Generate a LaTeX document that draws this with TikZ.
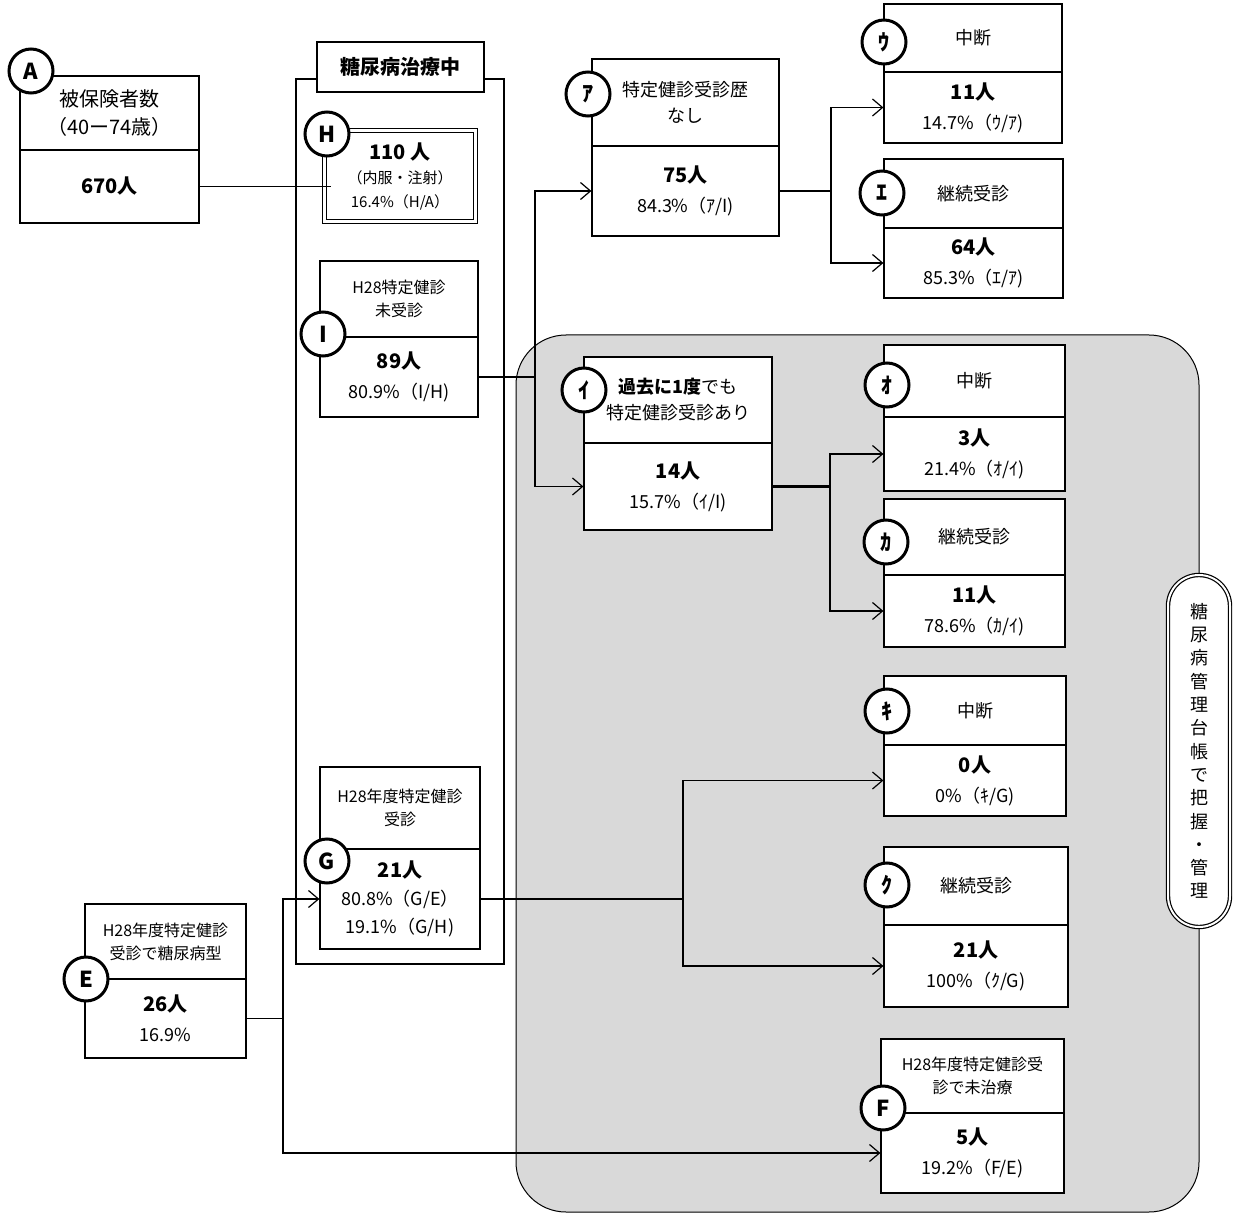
\documentclass[tikz,border=0pt]{standalone}
\usepackage{fontspec}
\setmainfont{Noto Sans CJK JP}
\usepackage{tikz}
\usetikzlibrary{arrows.meta}
\definecolor{grigio}{HTML}{D9D9D9}
\tikzset{
>={Straight Barb[length=10pt,width=17pt]},
scatola/.style={draw,fill=white,line width=1.2pt,inner sep=0pt,align=center},
cerchio/.style={circle,draw,fill=white,line width=3pt,minimum size=44pt,inner sep=0pt,font=\fontsize{22pt}{22pt}\selectfont\bfseries},
alto/.style={font=\fontsize{18pt}{26pt}\selectfont},
piccolo/.style={font=\fontsize{16pt}{23pt}\selectfont},
basso/.style={font=\fontsize{18pt}{30pt}\selectfont},
freccia/.style={->,line width=1.2pt},
linea/.style={line width=1.2pt},
spessa/.style={line width=2.4pt}}
\newcommand\persone[1]{{\fontsize{20pt}{30pt}\selectfont\bfseries #1}}

\begin{document}
\begin{tikzpicture}[x=1pt,y=-1pt]
\useasboundingbox (0,0) rectangle (1234,1214);

\draw[fill=grigio,line width=1pt,rounded corners=50pt] (516,335) rectangle (1199,1212);
\draw[linea] (296,79) rectangle (504,964);
\node[scatola,minimum width=167pt,minimum height=50pt,font=\fontsize{20pt}{20pt}\selectfont\bfseries] (T) at (400.5,67) {糖尿病治療中};
\node[draw,fill=white,double,double distance=2pt,line width=1.2pt,rounded corners=31pt,minimum width=62pt,minimum height=352pt,inner sep=0pt,align=center,font=\fontsize{18pt}{23.3pt}\selectfont] (P) at (1199,751) {糖\\尿\\病\\管\\理\\台\\帳\\で\\把\\握\\・\\管\\理};

\node[scatola,minimum width=179pt,minimum height=74pt,font=\fontsize{20pt}{28pt}\selectfont] (At) at (109.5,113) {被保険者数\\（40ー74歳）};
\node[scatola,minimum width=179pt,minimum height=73pt] (Ab) at (109.5,186.5) {\persone{670人}};
\node[scatola,double,double distance=2.4pt,line width=1.7pt,minimum width=151pt,minimum height=91pt,font=\fontsize{15pt}{24pt}\selectfont] (H) at (400,176) {\persone{110 人}\\（内服・注射）\\16.4\%（H/A）};
\node[scatola,piccolo,minimum width=158pt,minimum height=76pt] (It) at (399,299) {H28特定健診\\未受診};
\node[scatola,basso,minimum width=158pt,minimum height=80pt] (Ib) at (399,377) {\persone{89人}\\80.9\%（I/H)};
\node[scatola,piccolo,minimum width=160pt,minimum height=82pt] (Gt) at (400,808) {H28年度特定健診\\受診};
\node[scatola,font=\fontsize{18pt}{28pt}\selectfont,minimum width=160pt,minimum height=100pt] (Gb) at (400,899) {\persone{21人}\\80.8\%（G/E）\\19.1\%（G/H)};
\node[scatola,piccolo,minimum width=161pt,minimum height=75pt] (Et) at (165.5,941.5) {H28年度特定健診\\受診で糖尿病型};
\node[scatola,basso,minimum width=161pt,minimum height=79pt] (Eb) at (165.5,1018.5) {\persone{26人}\\16.9\%};

\node[scatola,alto,minimum width=187pt,minimum height=87pt] (kAt) at (685.5,102.5) {特定健診受診歴\\なし};
\node[scatola,basso,minimum width=187pt,minimum height=90pt] (kAb) at (685.5,191) {\persone{75人}\\84.3\%（ｱ/I)};
\node[scatola,alto,minimum width=178pt,minimum height=68pt] (kUt) at (973,38) {中断};
\node[scatola,basso,minimum width=178pt,minimum height=71pt] (kUb) at (973,107.5) {\persone{11人}\\14.7\%（ｳ/ｱ)};
\node[scatola,alto,minimum width=179pt,minimum height=69pt] (kEt) at (973.5,193.5) {継続受診};
\node[scatola,basso,minimum width=179pt,minimum height=70pt] (kEb) at (973.5,263) {\persone{64人}\\85.3\%（ｴ/ｱ)};
\node[scatola,alto,minimum width=188pt,minimum height=86pt] (kIt) at (678,400) {\textbf{過去に1度}でも\\特定健診受診あり};
\node[scatola,basso,minimum width=188pt,minimum height=87pt] (kIb) at (678,486.5) {\persone{14人}\\15.7\%（ｲ/I)};
\node[scatola,alto,minimum width=181pt,minimum height=72pt] (kOt) at (974.5,381) {中断};
\node[scatola,basso,minimum width=181pt,minimum height=74pt] (kOb) at (974.5,454) {\persone{3人}\\21.4\%（ｵ/ｲ)};
\node[scatola,alto,minimum width=181pt,minimum height=76pt] (kKAt) at (974.5,537) {継続受診};
\node[scatola,basso,minimum width=181pt,minimum height=72pt] (kKAb) at (974.5,611) {\persone{11人}\\78.6\%（ｶ/ｲ)};
\node[scatola,alto,minimum width=182pt,minimum height=69pt] (kKIt) at (975,710.5) {中断};
\node[scatola,basso,minimum width=182pt,minimum height=71pt] (kKIb) at (975,780.5) {\persone{0人}\\0\%（ｷ/G)};
\node[scatola,alto,minimum width=184pt,minimum height=78pt] (kKUt) at (976,886) {継続受診};
\node[scatola,basso,minimum width=184pt,minimum height=82pt] (kKUb) at (976,966) {\persone{21人}\\100\%（ｸ/G)};
\node[scatola,piccolo,minimum width=183pt,minimum height=74pt] (Ft) at (972.5,1076) {H28年度特定健診受\\診で未治療};
\node[scatola,basso,minimum width=183pt,minimum height=80pt] (Fb) at (972.5,1153) {\persone{5人}\\19.2\%（F/E)};

\node[cerchio] (cA) at (31,71) {A};
\node[cerchio] (cH) at (327,134) {H};
\node[cerchio] (cI) at (323,334) {I};
\node[cerchio] (cG) at (327,861) {G};
\node[cerchio] (cE) at (86,979) {E};
\node[cerchio] (cF) at (883,1108) {F};
\node[cerchio] (ckA) at (588,94) {ｱ};
\node[cerchio] (ckI) at (584,390) {ｲ};
\node[cerchio] (ckU) at (884,42) {ｳ};
\node[cerchio] (ckE) at (882,193) {ｴ};
\node[cerchio] (ckO) at (887,385) {ｵ};
\node[cerchio] (ckKA) at (886,542) {ｶ};
\node[cerchio] (ckKI) at (887,711) {ｷ};
\node[cerchio] (ckKU) at (887,885) {ｸ};

\coordinate (h0) at (331,186.5);
\coordinate (j1) at (535,377);
\coordinate (j2) at (831,191);
\coordinate (j3) at (830,486.5);
\coordinate (j4) at (683,899);
\coordinate (j5) at (283,1018.5);

\draw[linea] (Ab.east) -- (h0);
\draw[spessa] (Ib.east) -- (j1);
\draw[freccia] (j1) |- (kAb.west);
\draw[freccia] (j1) |- (kIb.west);
\draw[linea] (kAb.east) -- (j2);
\draw[freccia] (j2) |- (kUb.west);
\draw[freccia] (j2) |- (kEb.west);
\draw[spessa] (kIb.east) -- (j3);
\draw[freccia] (j3) |- (kOb.west);
\draw[freccia] (j3) |- (kKAb.west);
\draw[spessa] (Gb.east) -- (j4);
\draw[freccia] (j4) |- (kKIb.west);
\draw[freccia] (j4) |- (kKUb.west);
\draw[linea] (Eb.east) -- (j5);
\draw[freccia] (j5) |- (Gb.west);
\draw[freccia] (j5) |- (Fb.west);

\end{tikzpicture}
\end{document}
